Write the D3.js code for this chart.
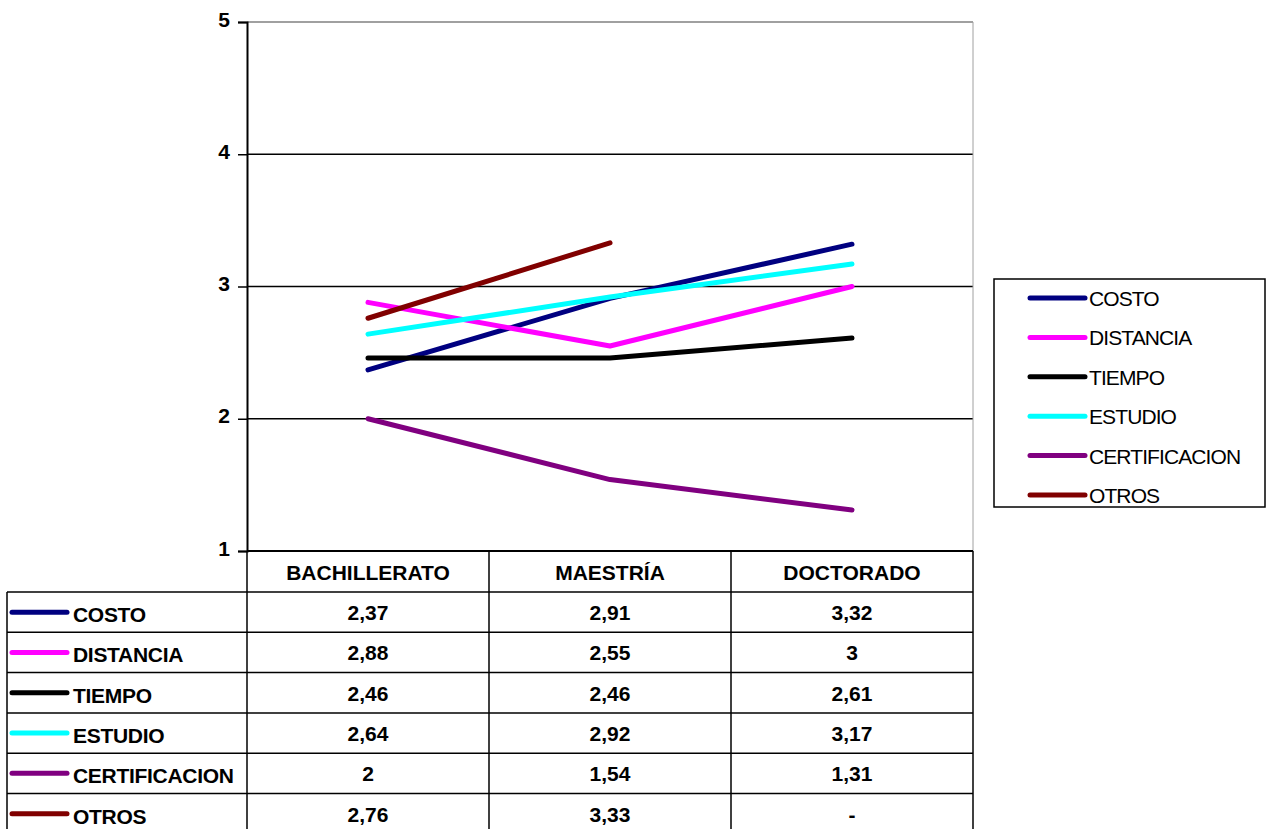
<!DOCTYPE html>
<html>
<head>
<meta charset="utf-8">
<script src="https://cdn.jsdelivr.net/npm/d3@7"></script>
<style>
  html, body { margin: 0; padding: 0; background: #fff; }
  svg { display: block; font-family: Arial, "Liberation Sans", sans-serif; }
</style>
</head>
<body>
<svg id="chart" width="1274" height="829"></svg>
<script>
const categories = ["BACHILLERATO", "MAESTRÍA", "DOCTORADO"];
const seriesNames = ["COSTO", "DISTANCIA", "TIEMPO", "ESTUDIO", "CERTIFICACION", "OTROS"];
const seriesColors = ["#000080", "#ff00ff", "#000000", "#00ffff", "#800080", "#800000"];
const costo = [2.37, 2.91, 3.32];
const distancia = [2.88, 2.55, 3];
const tiempo = [2.46, 2.46, 2.61];
const estudio = [2.64, 2.92, 3.17];
const certificacion = [2, 1.54, 1.31];
const otros = [2.76, 3.33, null];
const yTicks = [1, 2, 3, 4, 5];

const allValues = [costo, distancia, tiempo, estudio, certificacion, otros];
const series = seriesNames.map((name, i) => ({ name, color: seriesColors[i], values: allValues[i] }));

const svg = d3.select("#chart");
const plot = { left: 247, right: 973, top: 22, bottom: 551 };

const x = d3.scaleBand().domain(categories).range([plot.left, plot.right]);
const y = d3.scaleLinear().domain([1, 5]).range([plot.bottom, plot.top]);

// gridlines
svg.append("g").selectAll("line")
  .data(yTicks.filter(d => d > 1)).join("line")
  .attr("x1", plot.left).attr("x2", plot.right)
  .attr("y1", d => y(d)).attr("y2", d => y(d))
  .attr("stroke", d => d === 5 ? "#808080" : "#000").attr("stroke-width", 1.5);

// right border of plot
svg.append("line")
  .attr("x1", plot.right).attr("x2", plot.right)
  .attr("y1", plot.top).attr("y2", plot.bottom)
  .attr("stroke", "#a0a0a0").attr("stroke-width", 1);

// y axis
const yAxis = svg.append("g")
  .attr("transform", `translate(${plot.left},0)`)
  .call(d3.axisLeft(y).tickValues(yTicks).tickSize(9).tickPadding(8).tickFormat(d3.format("d")));
yAxis.select(".domain").attr("stroke", "#000").attr("stroke-width", 2);
yAxis.selectAll(".tick line").attr("stroke", "#000").attr("stroke-width", 1.5);
yAxis.selectAll(".tick text")
  .attr("fill", "#000").attr("font-size", 21).attr("font-weight", "bold")
  .attr("dy", "0.2em")
  .attr("font-family", "Arial, 'Liberation Sans', sans-serif");

// lines
const line = d3.line()
  .defined(d => d.v != null)
  .x(d => x(d.c) + x.bandwidth() / 2)
  .y(d => y(d.v));

svg.append("g").selectAll("path")
  .data(series).join("path")
  .attr("d", s => line(s.values.map((v, i) => ({ v, c: categories[i] }))))
  .attr("fill", "none")
  .attr("stroke", s => s.color)
  .attr("stroke-width", 5)
  .attr("stroke-linecap", "round")
  .attr("stroke-linejoin", "round");

// data table
const rowH = 40.3;
const headerTop = plot.bottom, headerBottom = 592;
const tableLeft = 7;
const fmt = v => v == null ? "-" : String(v).replace(".", ",");
const table = svg.append("g");

// header cells
table.selectAll("text.head")
  .data(categories).join("text")
  .attr("class", "head")
  .attr("x", d => x(d) + x.bandwidth() / 2)
  .attr("y", (headerTop + headerBottom) / 2 + 8)
  .attr("text-anchor", "middle")
  .attr("font-size", 21).attr("font-weight", "bold")
  .text(d => d);

// horizontal rules
const rowTops = series.map((s, i) => headerBottom + i * rowH);
table.append("line")
  .attr("x1", plot.left).attr("x2", plot.right)
  .attr("y1", headerTop).attr("y2", headerTop)
  .attr("stroke", "#000").attr("stroke-width", 2);
table.selectAll("line.hr")
  .data(rowTops).join("line")
  .attr("class", "hr")
  .attr("x1", tableLeft).attr("x2", plot.right)
  .attr("y1", d => d).attr("y2", d => d)
  .attr("stroke", "#000").attr("stroke-width", 1.5);

// vertical rules
table.append("line")
  .attr("x1", tableLeft).attr("x2", tableLeft)
  .attr("y1", headerBottom).attr("y2", 829)
  .attr("stroke", "#000").attr("stroke-width", 1.5);
table.selectAll("line.vr")
  .data(categories.map(c => x(c)).concat([plot.right])).join("line")
  .attr("class", "vr")
  .attr("x1", d => d).attr("x2", d => d)
  .attr("y1", headerTop).attr("y2", 829)
  .attr("stroke", "#000").attr("stroke-width", 1.5);

// rows
const rows = table.selectAll("g.row")
  .data(series).join("g")
  .attr("class", "row")
  .attr("transform", (s, i) => `translate(0,${rowTops[i] + rowH / 2})`);

rows.append("line")
  .attr("x1", 12).attr("x2", 67).attr("y1", 0).attr("y2", 0)
  .attr("stroke", s => s.color).attr("stroke-width", 5).attr("stroke-linecap", "round");

rows.append("text")
  .attr("x", 73).attr("y", 10)
  .attr("font-size", 21).attr("font-weight", "bold")
  .attr("letter-spacing", -0.3)
  .text(s => s.name);

rows.selectAll("text.val")
  .data(s => s.values.map((v, i) => ({ v, c: categories[i] })))
  .join("text")
  .attr("class", "val")
  .attr("x", d => x(d.c) + x.bandwidth() / 2)
  .attr("y", 8)
  .attr("text-anchor", "middle")
  .attr("font-size", 21).attr("font-weight", "bold")
  .text(d => fmt(d.v));

// legend
const legend = svg.append("g");
legend.append("rect")
  .attr("x", 994).attr("y", 279).attr("width", 271).attr("height", 228)
  .attr("fill", "#fff").attr("stroke", "#000").attr("stroke-width", 1.5);

const legItems = legend.selectAll("g.item")
  .data(series).join("g")
  .attr("class", "item")
  .attr("transform", (s, i) => `translate(0,${298 + i * 39.4})`);

legItems.append("line")
  .attr("x1", 1030).attr("x2", 1085).attr("y1", 0).attr("y2", 0)
  .attr("stroke", s => s.color).attr("stroke-width", 5).attr("stroke-linecap", "round");

legItems.append("text")
  .attr("x", 1089).attr("y", 8)
  .attr("font-size", 21).attr("letter-spacing", -0.9)
  .text(s => s.name);
</script>
</body>
</html>
